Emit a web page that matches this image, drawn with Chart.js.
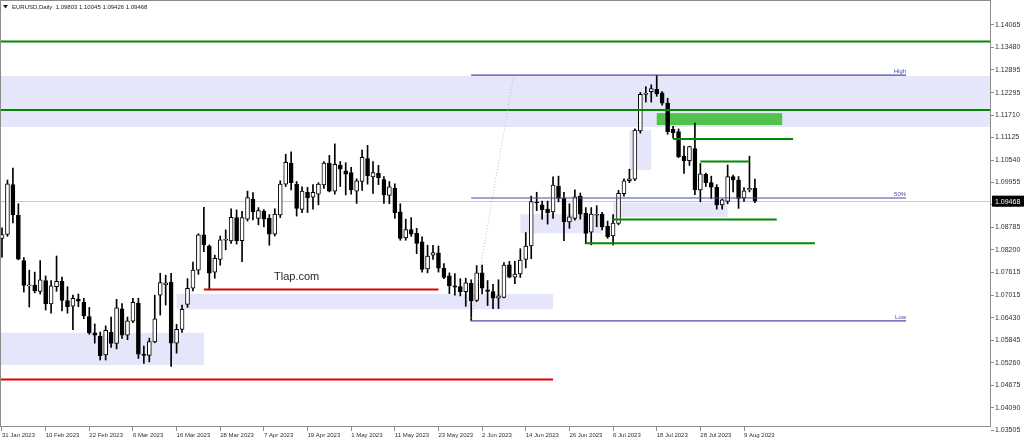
<!DOCTYPE html>
<html>
<head>
<meta charset="utf-8">
<script src="https://cdn.jsdelivr.net/npm/chart.js@4.4.0/dist/chart.umd.min.js"></script>
<style>
  html, body { margin: 0; padding: 0; background: #fff; }
  canvas { display: block; }
</style>
</head>
<body>
<canvas id="chart" width="1024" height="446"></canvas>
<script>
// EURUSD daily bars, index 0 = 31 Jan 2023 ... 138 = 11 Aug 2023
const opens = [
  1.0850, 1.0860, 1.0990, 1.0910, 1.0792, 1.0726, 1.0728, 1.0712, 1.0740, 1.0679,
  1.0724, 1.0738, 1.0688, 1.0673, 1.0692, 1.0684, 1.0646, 1.0604, 1.0595, 1.0546,
  1.0605, 1.0576, 1.0666, 1.0598, 1.0634, 1.0681, 1.0547, 1.0545, 1.0580, 1.0702,
  1.0729, 1.0736, 1.0577, 1.0613, 1.0678, 1.0720, 1.0767, 1.0859, 1.0830, 1.0762,
  1.0795, 1.0845, 1.0843, 1.0904, 1.0844, 1.0900, 1.0952, 1.0902, 1.0921, 1.0902,
  1.0861, 1.0911, 1.0991, 1.1046, 1.0991, 1.0925, 1.0970, 1.0957, 1.0965, 1.0989,
  1.1046, 1.0973, 1.1041, 1.1026, 1.1021, 1.0973, 1.0998, 1.1058, 1.1010, 1.1019,
  1.1003, 1.0962, 1.0980, 1.0919, 1.0851, 1.0873, 1.0863, 1.0841, 1.0770, 1.0806,
  1.0812, 1.0772, 1.0752, 1.0726, 1.0724, 1.0711, 1.0733, 1.0688, 1.0760, 1.0716,
  1.0711, 1.0694, 1.0696, 1.0781, 1.0749, 1.0757, 1.0795, 1.0830, 1.0944, 1.0937,
  1.0926, 1.0919, 1.0986, 1.0954, 1.0893, 1.0902, 1.0960, 1.0915, 1.0866, 1.0910,
  1.0913, 1.0882, 1.0856, 1.0889, 1.0966, 1.1000, 1.1004, 1.1130, 1.1225, 1.1232,
  1.1238, 1.1229, 1.1202, 1.1134, 1.1128, 1.1064, 1.1052, 1.1084, 1.0976, 1.1017,
  1.0995, 1.0983, 1.0937, 1.0946, 1.1011, 1.1002, 1.0955, 1.0976, 1.09803
];
const highs = [
  1.0877, 1.1002, 1.1033, 1.0940, 1.0800, 1.0767, 1.0762, 1.0792, 1.0752, 1.0740,
  1.0804, 1.0749, 1.0724, 1.0702, 1.0705, 1.0694, 1.0670, 1.0627, 1.0606, 1.0622,
  1.0645, 1.0691, 1.0680, 1.0645, 1.0694, 1.0694, 1.0569, 1.0590, 1.0702, 1.0759,
  1.0754, 1.0759, 1.0626, 1.0676, 1.0745, 1.0788, 1.0862, 1.0931, 1.0833, 1.0806,
  1.0856, 1.0872, 1.0927, 1.0924, 1.0920, 1.0973, 1.0969, 1.0930, 1.0925, 1.0912,
  1.0927, 1.1000, 1.1069, 1.1075, 1.0998, 1.0984, 1.0983, 1.0990, 1.0995, 1.1050,
  1.1066, 1.1096, 1.1050, 1.1047, 1.1035, 1.1005, 1.1080, 1.1092, 1.1050, 1.1040,
  1.1011, 1.0998, 1.0992, 1.0940, 1.0900, 1.0904, 1.0876, 1.0854, 1.0832, 1.0832,
  1.0830, 1.0784, 1.0760, 1.0758, 1.0745, 1.0746, 1.0742, 1.0779, 1.0780, 1.0740,
  1.0730, 1.0742, 1.0787, 1.0790, 1.0790, 1.0823, 1.0865, 1.0960, 1.0970, 1.0947,
  1.0947, 1.1010, 1.1012, 1.0970, 1.0940, 1.0976, 1.0968, 1.0930, 1.0930, 1.0935,
  1.0918, 1.0895, 1.0912, 1.0975, 1.1005, 1.1030, 1.1135, 1.1230, 1.1245, 1.1250,
  1.1275, 1.1232, 1.1215, 1.1142, 1.1135, 1.1090, 1.1090, 1.1150, 1.1045, 1.1020,
  1.1012, 1.0990, 1.0952, 1.1041, 1.1015, 1.1011, 1.0982, 1.1064, 1.10045
];
const lows = [
  1.0801, 1.0855, 1.0890, 1.0794, 1.0710, 1.0671, 1.0708, 1.0705, 1.0663, 1.0655,
  1.0712, 1.0661, 1.0655, 1.0612, 1.0672, 1.0641, 1.0600, 1.0577, 1.0533, 1.0533,
  1.0566, 1.0562, 1.0589, 1.0586, 1.0630, 1.0537, 1.0524, 1.0528, 1.0578, 1.0650,
  1.0676, 1.0516, 1.0551, 1.0605, 1.0670, 1.0713, 1.0756, 1.0815, 1.0716, 1.0746,
  1.0780, 1.0820, 1.0837, 1.0835, 1.0789, 1.0895, 1.0898, 1.0885, 1.0880, 1.0832,
  1.0856, 1.0904, 1.0985, 1.0976, 1.0908, 1.0917, 1.0917, 1.0926, 1.0937, 1.0980,
  1.0971, 1.0965, 1.0985, 1.0963, 1.0965, 1.0941, 1.0975, 1.0991, 1.0967, 1.0990,
  1.0941, 1.0940, 1.0902, 1.0845, 1.0845, 1.0855, 1.0810, 1.0762, 1.0760, 1.0795,
  1.0762, 1.0745, 1.0706, 1.0702, 1.0700, 1.0673, 1.0635, 1.0685, 1.0705, 1.0675,
  1.0667, 1.0667, 1.0695, 1.0747, 1.0732, 1.0748, 1.0773, 1.0797, 1.0922, 1.0900,
  1.0887, 1.0902, 1.0945, 1.0844, 1.0876, 1.0897, 1.0900, 1.0836, 1.0833, 1.0880,
  1.0872, 1.0850, 1.0833, 1.0885, 1.0960, 1.0995, 1.1000, 1.1124, 1.1205, 1.1205,
  1.1220, 1.1197, 1.1121, 1.1111, 1.1060, 1.1019, 1.1040, 1.0964, 1.0945, 1.0985,
  1.0953, 1.0926, 1.0926, 1.0940, 1.0971, 1.0928, 1.0946, 1.0971, 1.09426
];
const closes = [
  1.0860, 1.0992, 1.0911, 1.0796, 1.0727, 1.0729, 1.0713, 1.0742, 1.0679, 1.0726,
  1.0738, 1.0688, 1.0672, 1.0694, 1.0686, 1.0648, 1.0604, 1.0598, 1.0544, 1.0610,
  1.0576, 1.0669, 1.0598, 1.0635, 1.0683, 1.0548, 1.0545, 1.0581, 1.0640, 1.0735,
  1.0734, 1.0577, 1.0613, 1.0665, 1.0720, 1.0767, 1.0859, 1.0833, 1.0759, 1.0798,
  1.0846, 1.0847, 1.0905, 1.0844, 1.0904, 1.0956, 1.0919, 1.0922, 1.0900, 1.0861,
  1.0913, 1.0991, 1.1048, 1.0995, 1.0928, 1.0973, 1.0956, 1.0970, 1.0991, 1.1046,
  1.0973, 1.1043, 1.1030, 1.1017, 1.0976, 1.1000, 1.1061, 1.1013, 1.1021, 1.1008,
  1.0963, 1.0984, 1.0917, 1.0850, 1.0873, 1.0861, 1.0837, 1.0769, 1.0804, 1.0813,
  1.0772, 1.0748, 1.0726, 1.0723, 1.0711, 1.0734, 1.0687, 1.0760, 1.0720, 1.0712,
  1.0694, 1.0700, 1.0780, 1.0749, 1.0757, 1.0793, 1.0830, 1.0946, 1.0942, 1.0924,
  1.0917, 1.0989, 1.0954, 1.0893, 1.0906, 1.0958, 1.0913, 1.0863, 1.0913, 1.0912,
  1.0880, 1.0854, 1.0890, 1.0967, 1.1000, 1.1005, 1.1132, 1.1225, 1.1228, 1.1240,
  1.1226, 1.1202, 1.1128, 1.1125, 1.1063, 1.1052, 1.1089, 1.0976, 1.1018, 1.0995,
  1.0983, 1.0937, 1.0950, 1.1011, 1.1002, 1.0954, 1.0974, 1.0980, 1.09468
];

// date tick labels and the bar index they sit on
const xTickIdx = [0, 8, 16, 24, 32, 40, 48, 56, 64, 72, 80, 88, 96, 104, 112, 120, 128, 136];
const xTickLabels = ['31 Jan 2023', '10 Feb 2023', '22 Feb 2023', '6 Mar 2023', '16 Mar 2023',
  '28 Mar 2023', '7 Apr 2023', '19 Apr 2023', '1 May 2023', '11 May 2023', '23 May 2023',
  '2 Jun 2023', '14 Jun 2023', '26 Jun 2023', '6 Jul 2023', '18 Jul 2023', '28 Jul 2023', '9 Aug 2023'];
const yTicks = [1.14065, 1.13480, 1.12895, 1.12295, 1.11710, 1.11125, 1.10540, 1.09955, 1.09370,
  1.08785, 1.08200, 1.07615, 1.07015, 1.06430, 1.05845, 1.05260, 1.04675, 1.04090, 1.03505];

// drawn objects: [fromBar, toBar, price(s)]
const zones = [[-5, 200, 1.1273, 1.1140], [-5, 37, 1.0604, 1.0520], [32, 101, 1.0705, 1.0665],
  [95, 110, 1.0913, 1.0863], [112, 133, 1.0943, 1.0906], [115, 119, 1.1132, 1.1028]];
const greenLines = [[-5, 200, 1.1363], [-5, 200, 1.1184], [123, 145, 1.1109], [128, 137, 1.1050],
  [112, 142, 1.0899], [107, 149, 1.0837]];
const greenBox = [120, 143, 1.1176, 1.1145];
const redLines = [[37, 80, 1.0717], [-5, 101, 1.0482]];
const fibNames = ['High', '50%', 'Low'];
const fibLevels = [1.1275, 1.0955, 1.0635];
const fibRange = [86, 165.7];
const fibTrend = [[86, 1.0635], [93.8, 1.1275]];
const bidPrice = 1.09468;
const watermark = ['Tlap.com', 54, 1.0749];
const header = 'EURUSD,Daily  1.09803 1.10045 1.09426 1.09468';

const FONT = "'Liberation Sans', Arial, sans-serif";
Chart.defaults.font.family = FONT;

const up = i => closes[i] >= opens[i];

const overlay = {
  id: 'overlay',
  beforeDatasetsDraw(chart) {
    const { ctx, chartArea: a, scales: { x, y } } = chart;
    ctx.save();
    ctx.beginPath();
    ctx.rect(a.left, a.top, a.right - a.left, a.bottom - a.top);
    ctx.clip();
    ctx.fillStyle = '#e6e6fa';
    zones.forEach(z => {
      const x0 = x.getPixelForValue(z[0]), x1 = x.getPixelForValue(z[1]);
      const y0 = y.getPixelForValue(z[2]), y1 = y.getPixelForValue(z[3]);
      ctx.fillRect(x0, y0, x1 - x0, y1 - y0);
    });
    ctx.fillStyle = '#52c24e';
    {
      const x0 = x.getPixelForValue(greenBox[0]), x1 = x.getPixelForValue(greenBox[1]);
      const y0 = y.getPixelForValue(greenBox[2]), y1 = y.getPixelForValue(greenBox[3]);
      ctx.fillRect(x0, y0, x1 - x0, y1 - y0);
    }
    // bid line
    ctx.strokeStyle = '#c8c8c8';
    ctx.lineWidth = 1;
    const by = Math.round(y.getPixelForValue(bidPrice)) + 0.5;
    ctx.beginPath(); ctx.moveTo(a.left, by); ctx.lineTo(a.right, by); ctx.stroke();
    ctx.restore();
  },
  afterDatasetsDraw(chart) {
    const { ctx, chartArea: a, scales: { x, y } } = chart;
    ctx.save();
    ctx.beginPath();
    ctx.rect(a.left, a.top, a.right - a.left, a.bottom - a.top);
    ctx.clip();
    const hline = (l, color, w) => {
      const yy = y.getPixelForValue(l[2]);
      ctx.strokeStyle = color; ctx.lineWidth = w;
      ctx.beginPath();
      ctx.moveTo(x.getPixelForValue(l[0]), yy);
      ctx.lineTo(x.getPixelForValue(l[1]), yy);
      ctx.stroke();
    };
    greenLines.forEach(l => hline(l, '#008a00', 2));
    redLines.forEach(l => hline(l, '#e00000', 2));

    // fibonacci trend line (dotted)
    ctx.strokeStyle = 'rgba(240,150,160,0.8)';
    ctx.lineWidth = 1;
    ctx.setLineDash([1, 2]);
    ctx.beginPath();
    ctx.moveTo(x.getPixelForValue(fibTrend[0][0]), y.getPixelForValue(fibTrend[0][1]));
    ctx.lineTo(x.getPixelForValue(fibTrend[1][0]), y.getPixelForValue(fibTrend[1][1]));
    ctx.stroke();
    ctx.setLineDash([]);

    // fibonacci levels
    ctx.font = '6px ' + FONT;
    ctx.textAlign = 'right';
    ctx.textBaseline = 'alphabetic';
    fibLevels.forEach((p, i) => {
      hline([fibRange[0], fibRange[1], p], '#4848a8', 1.2);
      ctx.fillStyle = '#4848a8';
      ctx.fillText(fibNames[i], x.getPixelForValue(fibRange[1]), y.getPixelForValue(p) - 2);
    });

    // watermark
    ctx.fillStyle = '#262626';
    ctx.font = '11px ' + FONT;
    ctx.textAlign = 'center';
    ctx.textBaseline = 'middle';
    ctx.fillText(watermark[0], x.getPixelForValue(watermark[1]), y.getPixelForValue(watermark[2]));
    ctx.restore();
  },
  afterDraw(chart) {
    const { ctx, chartArea: a, scales: { y } } = chart;
    ctx.save();
    // frame
    ctx.strokeStyle = '#8c8c8c';
    ctx.lineWidth = 1;
    ctx.strokeRect(a.left - 0.5, a.top - 0.5, a.right - a.left, a.bottom - a.top);
    // header
    ctx.fillStyle = '#222';
    ctx.beginPath();
    ctx.moveTo(3, 5); ctx.lineTo(8, 5); ctx.lineTo(5.5, 8.5); ctx.closePath(); ctx.fill();
    ctx.font = '6px ' + FONT;
    ctx.textAlign = 'left';
    ctx.textBaseline = 'middle';
    ctx.fillText(header, 12, 7);
    // current price label
    const py = y.getPixelForValue(bidPrice);
    ctx.fillStyle = '#000';
    ctx.fillRect(a.right + 1, py - 5.5, 32, 11);
    ctx.fillStyle = '#fff';
    ctx.font = '7px ' + FONT;
    ctx.fillText(bidPrice.toFixed(5), a.right + 4, py + 0.5);
    ctx.restore();
  }
};

const idx = opens.map((_, i) => i);

new Chart(document.getElementById('chart'), {
  type: 'bar',
  data: {
    datasets: [
      {
        label: 'body',
        order: 0,
        grouped: false,
        data: idx.map(i => ({ x: i, y: [opens[i], closes[i]] })),
        backgroundColor: c => (up(c.dataIndex) ? '#ffffff' : '#000000'),
        borderColor: '#000000',
        borderWidth: 1,
        borderSkipped: false,
        barThickness: 4,
        minBarLength: 1
      },
      {
        label: 'wick',
        order: 1,
        grouped: false,
        data: idx.map(i => ({ x: i, y: [lows[i], highs[i]] })),
        backgroundColor: '#000000',
        borderWidth: 0,
        barThickness: 1
      }
    ]
  },
  options: {
    responsive: false,
    animation: false,
    devicePixelRatio: 1,
    layout: { padding: { top: 1, left: 1, right: 0, bottom: 0 } },
    plugins: { legend: { display: false }, tooltip: { enabled: false } },
    scales: {
      x: {
        type: 'linear',
        offset: false,
        min: -0.183,
        max: 181.27,
        afterBuildTicks: s => { s.ticks = xTickIdx.map(v => ({ value: v })); },
        afterFit: s => { s.height = 19; s.paddingLeft = 0; s.paddingRight = 0; },
        grid: { display: true, drawOnChartArea: false, offset: false, tickLength: 4, color: '#8c8c8c' },
        border: { display: false },
        ticks: {
          autoSkip: false,
          maxRotation: 0,
          align: 'start',
          padding: 1,
          color: '#303030',
          font: { size: 6 },
          callback: (v, i) => xTickLabels[i]
        }
      },
      y: {
        type: 'linear',
        position: 'right',
        min: 1.03585,
        max: 1.14682,
        afterBuildTicks: s => { s.ticks = yTicks.map(v => ({ value: v })); },
        afterFit: s => { s.width = 33; s.paddingTop = 0; s.paddingBottom = 0; },
        grid: { display: true, drawOnChartArea: false, tickLength: 3, color: '#8c8c8c' },
        border: { display: false },
        ticks: {
          autoSkip: false,
          padding: 1,
          color: '#303030',
          font: { size: 7 },
          callback: v => v.toFixed(5)
        }
      }
    }
  },
  plugins: [overlay]
});
</script>
</body>
</html>
